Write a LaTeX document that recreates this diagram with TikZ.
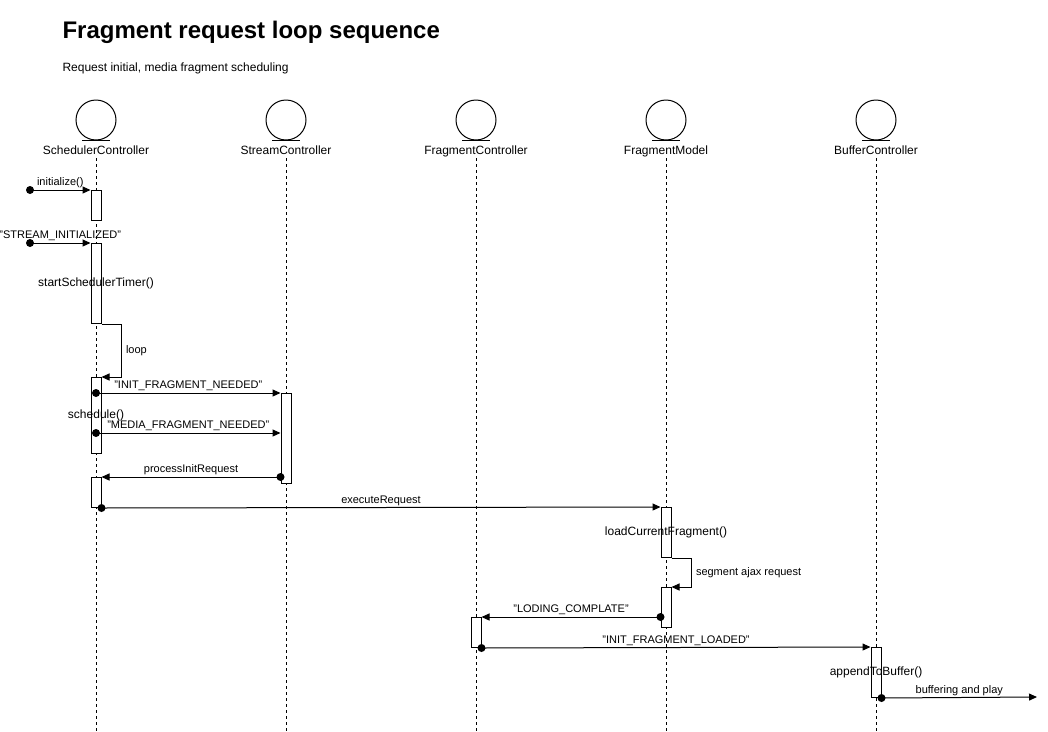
\documentclass[tikz,border=0pt]{standalone}
\usepackage{fontspec}
\setmainfont{Liberation Sans}
\usetikzlibrary{arrows.meta}

\begin{document}
\begin{tikzpicture}[x=1pt, y=-1pt, line width=1pt,
    actor/.style={draw, circle, minimum size=40pt, inner sep=0pt},
    lname/.style={font=\fontsize{12}{14}\selectfont, inner sep=0pt},
    life/.style={line width=0.8pt, dash pattern=on 3pt off 3pt},
    bar/.style={draw, fill=white, minimum width=10pt, inner sep=0pt, anchor=north},
    msg/.style={-{Triangle[length=8pt, width=7pt]}},
    mtext/.style={font=\fontsize{11}{13}\selectfont, inner sep=1.5pt}]
    \useasboundingbox (0,0) rectangle (1048,731);

    % -----------------------------------------------------
    % 1) Titulo y subtitulo
    % -----------------------------------------------------
    \node[anchor=base west, inner sep=0pt, font=\bfseries\fontsize{24}{28}\selectfont] (title) at (62,38) {Fragment request loop sequence};
    \node[anchor=base west, inner sep=0pt, font=\fontsize{12}{14}\selectfont] (subtitle) at (62,71) {Request initial, media fragment scheduling};

    % -----------------------------------------------------
    % 2) Participantes y lineas de vida
    % -----------------------------------------------------
    \foreach \x/\n/\t in {96/sc/SchedulerController, 286/st/StreamController,
                          476/fc/FragmentController, 666/fm/FragmentModel,
                          876/bc/BufferController} {
        \node[actor] (\n) at (\x,120) {};
        \draw (\n.south) ++(-14,0) -- ++(28,0);
        \node[lname, anchor=base] (\n-lbl) at (\x,154) {\t};
        \draw[life] (\x,158) -- (\x,731);
    }

    % -----------------------------------------------------
    % 3) Barras de activacion
    % -----------------------------------------------------
    \node[bar, minimum height=30pt] (sc1) at (96,190) {};
    \node[bar, minimum height=80pt] (sc2) at (96,243) {};
    \node[bar, minimum height=76pt] (sc3) at (96,377) {};
    \node[bar, minimum height=30pt] (sc4) at (96,477) {};
    \node[bar, minimum height=90pt] (st1) at (286,393) {};
    \node[bar, minimum height=50pt] (fm1) at (666,507) {};
    \node[bar, minimum height=40pt] (fm2) at (666,587) {};
    \node[bar, minimum height=30pt] (fc1) at (476,617) {};
    \node[bar, minimum height=50pt] (bc1) at (876,647) {};

    \node[lname] (sc2-lbl) at (sc2.center) {startSchedulerTimer()};
    \node[lname] (sc3-lbl) at (sc3.center) {schedule()};
    \node[lname] (fm1-lbl) at (fm1.center) {loadCurrentFragment()};
    \node[lname] (bc1-lbl) at (bc1.center) {appendToBuffer()};

    % -----------------------------------------------------
    % 4) Mensajes de entrada
    % -----------------------------------------------------
    \coordinate (init) at (30,190);
    \coordinate (streaminit) at (30,243);
    \fill (init) circle (4pt);
    \draw[msg] (init) -- (sc1.north west) node[mtext, midway, above] {initialize()};
    \fill (streaminit) circle (4pt);
    \draw[msg] (streaminit) -- (sc2.north west) node[mtext, midway, above] {"STREAM\_INITIALIZED"};

    % -----------------------------------------------------
    % 5) Bucle de planificacion
    % -----------------------------------------------------
    \draw[msg] (sc2.south east) -- ++(20,0) |- (sc3.north east) node[mtext, pos=0.25, right, inner sep=4pt] {loop};

    \coordinate (ifn) at (sc3.center |- st1.north);
    \coordinate (mfn) at (96,433);
    \fill (ifn) circle (4pt);
    \draw[msg] (ifn) -- (st1.north west) node[mtext, midway, above] {"INIT\_FRAGMENT\_NEEDED"};
    \fill (mfn) circle (4pt);
    \draw[msg] (mfn) -- (mfn -| st1.west) node[mtext, midway, above] {"MEDIA\_FRAGMENT\_NEEDED"};

    \coordinate (pir) at (st1.west |- sc4.north);
    \fill (pir) circle (4pt);
    \draw[msg] (pir) -- (sc4.north east) node[mtext, midway, above] {processInitRequest};

    % -----------------------------------------------------
    % 6) Peticion y carga del fragmento
    % -----------------------------------------------------
    \fill (sc4.south east) circle (4pt);
    \draw[msg] (sc4.south east) -- (fm1.north west) node[mtext, midway, above] {executeRequest};

    \draw[msg] (fm1.south east) -- ++(20,0) |- (fm2.north east) node[mtext, pos=0.25, right, inner sep=4pt] {segment ajax request};

    \coordinate (lc) at (fm2.west |- fc1.north);
    \fill (lc) circle (4pt);
    \draw[msg] (lc) -- (fc1.north east) node[mtext, midway, above] {"LODING\_COMPLATE"};

    \fill (fc1.south east) circle (4pt);
    \draw[msg] (fc1.south east) -- (bc1.north west) node[mtext, midway, above] {"INIT\_FRAGMENT\_LOADED"};

    \coordinate (play) at (1037,697);
    \fill (bc1.south east) circle (4pt);
    \draw[msg] (bc1.south east) -- (play) node[mtext, midway, above] {buffering and play};

\end{tikzpicture}
\end{document}
